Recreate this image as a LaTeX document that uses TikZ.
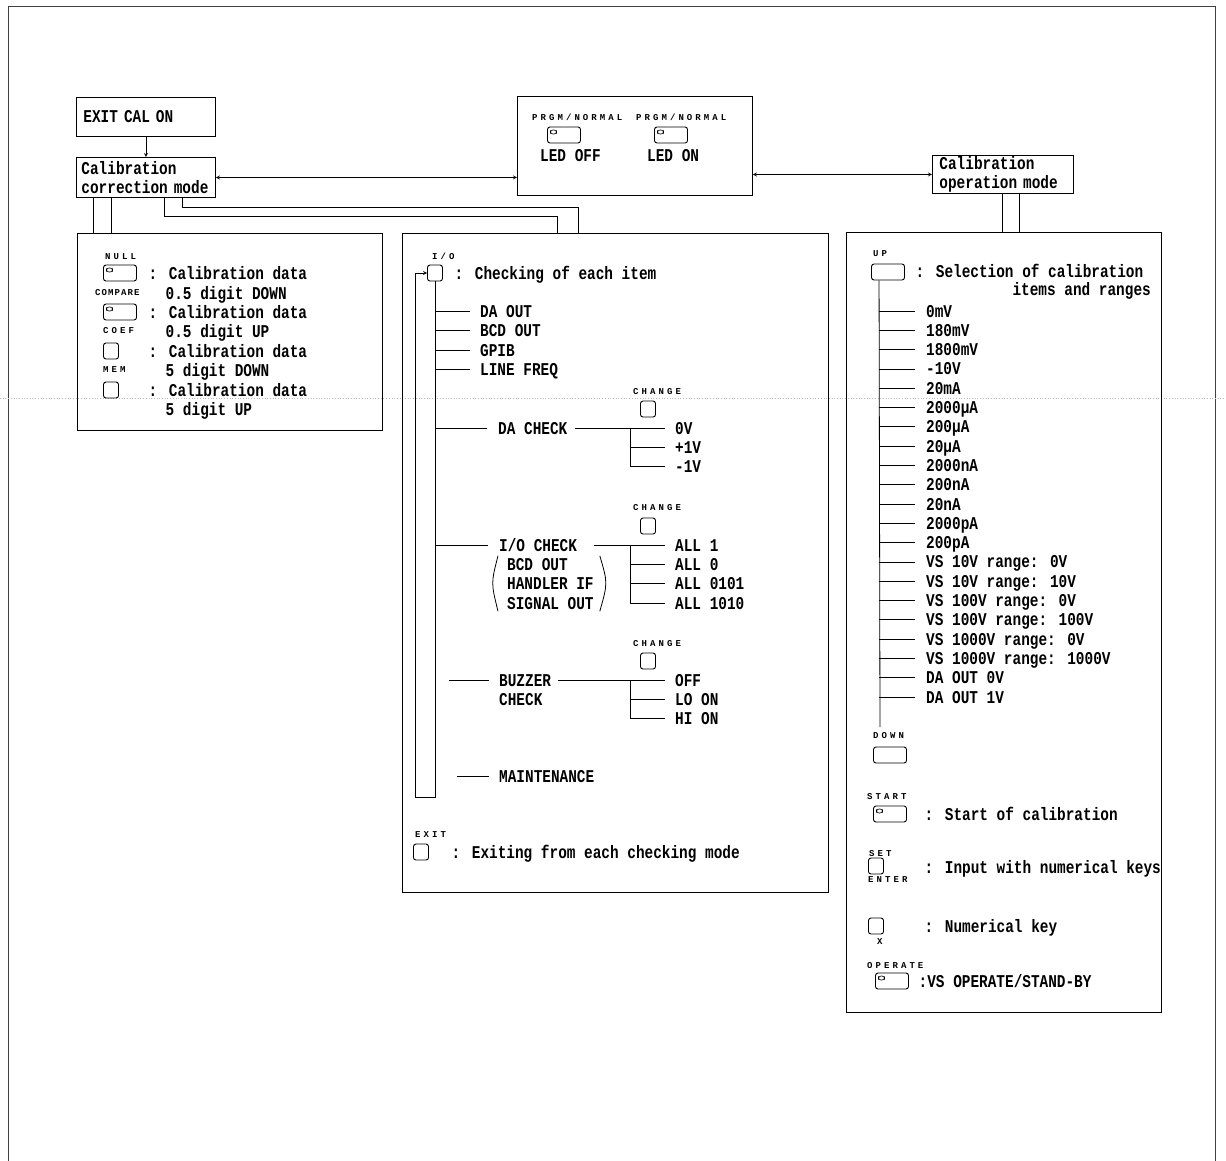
\documentclass[tikz,border=0pt]{standalone}
\usepackage{fontspec}
\setmainfont[FakeStretch=0.80]{Liberation Mono}
\newfontfamily\keyfont[LetterSpace=34]{Liberation Mono}
\newfontfamily\keyfontnarrow[LetterSpace=12]{Liberation Mono}
\usepackage{tikz}
\usetikzlibrary{arrows, positioning, calc}

\newcommand{\txtsize}{\bfseries\fontsize{18}{19.3}\selectfont}
\newcommand{\keysize}{\keyfont\bfseries\fontsize{9}{10}\selectfont}
\newcommand{\keysizenarrow}{\keyfontnarrow\bfseries\fontsize{9}{10}\selectfont}

\begin{document}
\begin{tikzpicture}[
    x=1pt, y=-1pt,
    box/.style={draw, line width=0.9pt, rectangle, anchor=north west, inner sep=0pt},
    tbox/.style={box, font=\txtsize, align=left, inner xsep=6pt},
    txt/.style={font=\txtsize, anchor=west, inner sep=0pt, text height=12pt, text depth=0pt},
    lbl/.style={font=\keysize, anchor=west, inner sep=0pt, text height=5.9pt, text depth=0pt},
    btn/.style={draw, line width=0.9pt, rounded corners=2.5pt, minimum width=15pt, minimum height=16pt, inner sep=0pt},
    wbtn/.style={btn, minimum width=33pt},
    ledbtn/.style={wbtn, path picture={\draw[line width=0.6pt] ([xshift=3pt,yshift=-3pt]path picture bounding box.north west) rectangle ++(6pt,-4pt);}},
    link/.style={line width=0.8pt},
    arrow/.style={thick,->,>=stealth}
]
\useasboundingbox (0,0) rectangle (1226,1160);

% Sheet border and scan line
\draw[line width=1pt, black!75] (8,1175) -- (8,6) -- (1215,6) -- (1215,1175);
\draw[gray!55, dotted, line width=0.7pt] (0,398) -- (1226,398);

% Mode boxes
\node[tbox, text width=125pt, minimum height=39pt, inner xsep=7pt] (exit) at (76,97) {EXIT CAL ON};
\node[tbox, text width=129pt, minimum height=40pt, inner xsep=5pt] (corr) at (76,157) {Calibration\\correction mode};
\node[box, minimum width=235pt, minimum height=99pt] (prgm) at (517,96) {};
\node[tbox, text width=127pt, minimum height=38pt, inner xsep=7pt] (oper) at (932,155) {Calibration\\operation mode};

% PRGM/NORMAL key
\node[lbl] (prgmlbl1) at (532,118) {PRGM/NORMAL};
\node[lbl] (prgmlbl2) at (636,118) {PRGM/NORMAL};
\node[ledbtn] (prgmoff) at (564,135) {};
\node[ledbtn] (prgmon) at (671,135) {};
\node[txt] (ledoff) at (540,155) {LED OFF};
\node[txt] (ledon) at (647,155) {LED ON};

\draw[arrow] (exit) -- (corr);
\draw[arrow, <->] (corr.east) -- (corr.east -| prgm.west);
\draw[arrow, <->] (oper.west -| prgm.east) -- (oper.west);

% Panels
\node[box, minimum width=305pt, minimum height=197pt] (left) at (77,233) {};
\node[box, minimum width=426pt, minimum height=659pt] (mid) at (402,233) {};
\node[box, minimum width=315pt, minimum height=780pt] (right) at (846,232) {};

% Feed lines
\coordinate (c1) at ([xshift=17pt]corr.south west);
\coordinate (c2) at ([xshift=35pt]corr.south west);
\coordinate (c3) at ([xshift=88pt]corr.south west);
\coordinate (c4) at ([xshift=106pt]corr.south west);
\coordinate (m1) at ([xshift=155pt]mid.north west);
\coordinate (m2) at ([xshift=176pt]mid.north west);
\coordinate (o1) at ([xshift=70pt]oper.south west);
\coordinate (o2) at ([xshift=87pt]oper.south west);
\draw[link] (c1) -- (c1 |- left.north);
\draw[link] (c2) -- (c2 |- left.north);
\draw[link] (c3) |- ([yshift=17pt]m1) -- (m1);
\draw[link] (c4) |- ([yshift=26pt]m2) -- (m2);
\draw[link] (o1) -- (o1 |- right.north);
\draw[link] (o2) -- (o2 |- right.north);

% Correction keys
\node[lbl] (nulllbl) at (105,257) {NULL};
\node[ledbtn] (nullbtn) at (120,273) {};
\node[txt] (null1) at (148.5,273) {: Calibration data};
\node[lbl, font=\keysizenarrow] (cmplbl) at (95,293) {COMPARE};
\node[txt] (null2) at (165.5,293) {0.5 digit DOWN};
\node[ledbtn] (cmpbtn) at (120,312) {};
\node[txt] (cmp1) at (148.5,312) {: Calibration data};
\node[lbl] (coeflbl) at (103,331) {COEF};
\node[txt] (cmp2) at (165.5,331) {0.5 digit UP};
\node[btn] (coefbtn) at (111,351) {};
\node[txt] (coef1) at (148.5,351) {: Calibration data};
\node[lbl] (memlbl) at (103,370) {MEM};
\node[txt] (coef2) at (165.5,370) {5 digit DOWN};
\node[btn] (membtn) at (111,390) {};
\node[txt] (mem1) at (148.5,390) {: Calibration data};
\node[txt] (mem2) at (165.5,409) {5 digit UP};

% Checking keys
\node[lbl] (iolbl) at (432,257) {I/O};
\node[btn] (iobtn) at (435,273) {};
\node[txt] (iotxt) at (454.5,273) {: Checking of each item};
\coordinate (ioturn) at (415,797);
\draw[arrow, line width=0.8pt] (iobtn.south) |- (ioturn) |- (iobtn.west);

\node[txt] (daout) at (480,311) {DA OUT};
\node[txt] (bcdout) at (480,330) {BCD OUT};
\node[txt] (gpib) at (480,350) {GPIB};
\node[txt] (linefreq) at (480,369) {LINE FREQ};
\draw[link] (iobtn.south |- daout.west) -- ([xshift=-10pt]daout.west);
\draw[link] (iobtn.south |- bcdout.west) -- ([xshift=-10pt]bcdout.west);
\draw[link] (iobtn.south |- gpib.west) -- ([xshift=-10pt]gpib.west);
\draw[link] (iobtn.south |- linefreq.west) -- ([xshift=-10pt]linefreq.west);

% DA check
\node[lbl] (chglbl1) at (633,392) {CHANGE};
\node[btn] (chgbtn1) at (648,409) {};
\node[txt] (dachk) at (498,428) {DA CHECK};
\node[txt] (v0) at (675,428) {0V};
\node[txt] (vp1) at (675,447) {+1V};
\node[txt] (vm1) at (675,466) {-1V};
\draw[link] (iobtn.south |- dachk.west) -- ([xshift=-11pt]dachk.west);
\draw[link] ([xshift=7pt]dachk.east) -- ([xshift=-10pt]v0.west);
\coordinate (dasplit) at ([xshift=-45pt]v0.west);
\draw[link] (dasplit) |- ([xshift=-10pt]vm1.west);
\draw[link] (dasplit |- vp1.west) -- ([xshift=-10pt]vp1.west);

% I/O check
\node[lbl] (chglbl2) at (633,508) {CHANGE};
\node[btn] (chgbtn2) at (648,526) {};
\node[txt] (iochk) at (499,545) {I/O CHECK};
\node[txt] (bcd) at (507,564) {BCD OUT};
\node[txt] (handler) at (507,583) {HANDLER IF};
\node[txt] (signal) at (507,603) {SIGNAL OUT};
\node[txt] (all1) at (675,545) {ALL 1};
\node[txt] (all0) at (675,564) {ALL 0};
\node[txt] (all0101) at (675,583) {ALL 0101};
\node[txt] (all1010) at (675,603) {ALL 1010};
\draw[link] (iobtn.south |- iochk.west) -- ([xshift=-11pt]iochk.west);
\draw[link] ([xshift=17pt]iochk.east) -- ([xshift=-10pt]all1.west);
\coordinate (iosplit) at ([xshift=-45pt]all1.west);
\draw[link] (iosplit) |- ([xshift=-10pt]all1010.west);
\draw[link] (iosplit |- all0.west) -- ([xshift=-10pt]all0.west);
\draw[link] (iosplit |- all0101.west) -- ([xshift=-10pt]all0101.west);
\draw[link] ($(bcd.north west)+(-9,-2)$) .. controls ($(handler.west)+(-16,0)$) .. ($(signal.south west)+(-9,2)$);
\draw[link] ($(handler.east |- bcd.north)+(6,-2)$) .. controls ($(handler.east)+(14,0)$) .. ($(handler.east |- signal.south)+(6,2)$);

% Buzzer check
\node[lbl] (chglbl3) at (633,644) {CHANGE};
\node[btn] (chgbtn3) at (648,661) {};
\node[txt] (buzzer) at (499,680) {BUZZER};
\node[txt] (buzchk) at (499,699) {CHECK};
\node[txt] (off) at (675,680) {OFF};
\node[txt] (loon) at (675,699) {LO ON};
\node[txt] (hion) at (675,718) {HI ON};
\draw[link] ([xshift=-50pt]buzzer.west) -- ([xshift=-10pt]buzzer.west);
\draw[link] ([xshift=7pt]buzzer.east) -- ([xshift=-10pt]off.west);
\coordinate (buzsplit) at ([xshift=-45pt]off.west);
\draw[link] (buzsplit) |- ([xshift=-10pt]hion.west);
\draw[link] (buzsplit |- loon.west) -- ([xshift=-10pt]loon.west);

\node[txt] (maint) at (499,776) {MAINTENANCE};
\draw[link] ([xshift=-42pt]maint.west) -- ([xshift=-10pt]maint.west);

\node[lbl] (exitlbl) at (415,835) {EXIT};
\node[btn] (exitbtn) at (421,852) {};
\node[txt] (exittxt) at (451.5,852) {: Exiting from each checking mode};

% Operation keys
\node[lbl] (uplbl) at (873,254) {UP};
\node[wbtn] (upbtn) at (888,272) {};
\node[txt] (uptxt) at (915.5,271) {: Selection of calibration};
\node[txt, anchor=east] (uptxt2) at (1151,289) {items and ranges};
\coordinate (uptrunk) at ([xshift=8pt]upbtn.south west);
\coordinate (upend) at (880,727);
\draw[link] (uptrunk) -- (upend);

\node[txt] (r1) at (926,311) {0mV};
\node[txt] (r2) at (926,330.3) {180mV};
\node[txt] (r3) at (926,349.6) {1800mV};
\node[txt] (r4) at (926,368.9) {-10V};
\node[txt] (r5) at (926,388.2) {20mA};
\node[txt] (r6) at (926,407.5) {2000μA};
\node[txt] (r7) at (926,426.8) {200μA};
\node[txt] (r8) at (926,446.1) {20μA};
\node[txt] (r9) at (926,465.4) {2000nA};
\node[txt] (r10) at (926,484.7) {200nA};
\node[txt] (r11) at (926,504) {20nA};
\node[txt] (r12) at (926,523.3) {2000pA};
\node[txt] (r13) at (926,542.6) {200pA};
\node[txt] (r14) at (926,561.9) {VS 10V range: 0V};
\node[txt] (r15) at (926,581.2) {VS 10V range: 10V};
\node[txt] (r16) at (926,600.5) {VS 100V range: 0V};
\node[txt] (r17) at (926,619.8) {VS 100V range: 100V};
\node[txt] (r18) at (926,639.1) {VS 1000V range: 0V};
\node[txt] (r19) at (926,658.4) {VS 1000V range: 1000V};
\node[txt] (r20) at (926,677.7) {DA OUT 0V};
\node[txt] (r21) at (926,697) {DA OUT 1V};
\draw[link] (uptrunk |- r1.west) -- ([xshift=-11pt]r1.west);
\draw[link] (uptrunk |- r2.west) -- ([xshift=-11pt]r2.west);
\draw[link] (uptrunk |- r3.west) -- ([xshift=-11pt]r3.west);
\draw[link] (uptrunk |- r4.west) -- ([xshift=-11pt]r4.west);
\draw[link] (uptrunk |- r5.west) -- ([xshift=-11pt]r5.west);
\draw[link] (uptrunk |- r6.west) -- ([xshift=-11pt]r6.west);
\draw[link] (uptrunk |- r7.west) -- ([xshift=-11pt]r7.west);
\draw[link] (uptrunk |- r8.west) -- ([xshift=-11pt]r8.west);
\draw[link] (uptrunk |- r9.west) -- ([xshift=-11pt]r9.west);
\draw[link] (uptrunk |- r10.west) -- ([xshift=-11pt]r10.west);
\draw[link] (uptrunk |- r11.west) -- ([xshift=-11pt]r11.west);
\draw[link] (uptrunk |- r12.west) -- ([xshift=-11pt]r12.west);
\draw[link] (uptrunk |- r13.west) -- ([xshift=-11pt]r13.west);
\draw[link] (uptrunk |- r14.west) -- ([xshift=-11pt]r14.west);
\draw[link] (uptrunk |- r15.west) -- ([xshift=-11pt]r15.west);
\draw[link] (uptrunk |- r16.west) -- ([xshift=-11pt]r16.west);
\draw[link] (uptrunk |- r17.west) -- ([xshift=-11pt]r17.west);
\draw[link] (uptrunk |- r18.west) -- ([xshift=-11pt]r18.west);
\draw[link] (uptrunk |- r19.west) -- ([xshift=-11pt]r19.west);
\draw[link] (uptrunk |- r20.west) -- ([xshift=-11pt]r20.west);
\draw[link] (uptrunk |- r21.west) -- ([xshift=-11pt]r21.west);

\node[lbl] (downlbl) at (873,736) {DOWN};
\node[wbtn] (downbtn) at (890,755) {};

\node[lbl] (startlbl) at (867,797) {START};
\node[ledbtn] (startbtn) at (890,814) {};
\node[txt] (starttxt) at (924.5,814) {: Start of calibration};

\node[lbl] (setlbl) at (869,854) {SET};
\node[btn] (setbtn) at (876,866) {};
\node[lbl] (enterlbl) at (868,880) {ENTER};
\node[txt] (settxt) at (924.5,867) {: Input with numerical keys};

\node[btn] (numbtn) at (876,926) {};
\node[lbl] (numlbl) at (877,942) {X};
\node[txt] (numtxt) at (924.5,926) {: Numerical key};

\node[lbl] (oplbl) at (867,966) {OPERATE};
\node[ledbtn] (opbtn) at (892,981) {};
\node[txt] (optxt) at (918.5,981) {:VS OPERATE/STAND-BY};

\end{tikzpicture}
\end{document}
